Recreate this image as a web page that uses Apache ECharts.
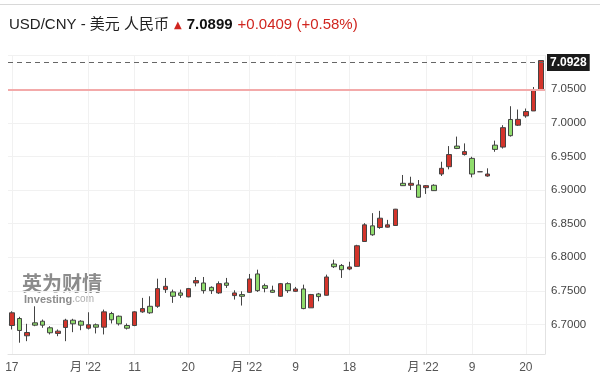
<!DOCTYPE html>
<html><head><meta charset="utf-8">
<script src="https://cdn.jsdelivr.net/npm/echarts@6/dist/echarts.min.js"></script>
<style>html,body{margin:0;padding:0;background:#fff}#c{width:600px;height:392px}</style>
</head><body><div id="c"></div>
<script>
const dates = [
 '2022-06-17','2022-06-20','2022-06-21','2022-06-22','2022-06-23','2022-06-24',
 '2022-06-27','2022-06-28','2022-06-29','2022-06-30','2022-07-01',
 '2022-07-04','2022-07-05','2022-07-06','2022-07-07','2022-07-08',
 '2022-07-11','2022-07-12','2022-07-13','2022-07-14','2022-07-15',
 '2022-07-18','2022-07-19','2022-07-20','2022-07-21','2022-07-22',
 '2022-07-25','2022-07-26','2022-07-27','2022-07-28','2022-07-29',
 '2022-08-01','2022-08-02','2022-08-03','2022-08-04','2022-08-05',
 '2022-08-08','2022-08-09','2022-08-10','2022-08-11','2022-08-12',
 '2022-08-15','2022-08-16','2022-08-17','2022-08-18','2022-08-19',
 '2022-08-22','2022-08-23','2022-08-24','2022-08-25','2022-08-26',
 '2022-08-29','2022-08-30','2022-08-31','2022-09-01','2022-09-02',
 '2022-09-05','2022-09-06','2022-09-07','2022-09-08','2022-09-09',
 '2022-09-12','2022-09-13','2022-09-14','2022-09-15','2022-09-16',
 '2022-09-19','2022-09-20','2022-09-21','2022-09-22'
];
const opens = [6.6985,6.7089,6.6832,6.7025,6.7049,6.6951,6.6867,6.6956,6.7064,6.7049,
 6.6945,6.6996,6.6960,6.7163,6.7123,6.6985,6.6985,6.7188,6.7271,6.7271,
 6.7519,6.7485,6.7470,6.7411,6.7618,6.7618,6.7553,6.7470,6.7618,6.7430,
 6.7445,6.7479,6.7752,6.7578,6.7509,6.7420,6.7608,6.7494,6.7529,6.7248,
 6.7455,6.7435,6.7900,6.7879,6.7826,6.7865,6.8235,6.8468,6.8443,6.8449,
 6.8473,6.9101,6.9072,6.9076,6.9036,6.9072,6.9239,6.9348,6.9655,6.9529,
 6.9472,6.9273,6.9210,6.9669,6.9640,7.0051,6.9966,7.0104,7.0178,7.0495];
const closes = [6.7174,6.6911,6.6881,6.6990,6.6990,6.6877,6.6901,6.7064,6.7010,6.6990,
 6.6996,6.6960,6.7188,6.7070,6.7010,6.6945,6.7188,6.7237,6.7174,6.7534,
 6.7568,6.7420,6.7435,6.7534,6.7653,6.7504,6.7504,6.7608,6.7583,6.7470,
 6.7420,6.7678,6.7504,6.7538,6.7479,6.7608,6.7504,6.7529,6.7237,6.7445,
 6.7415,6.7707,6.7860,6.7816,6.7856,6.8172,6.8483,6.8335,6.8582,6.8483,
 6.8716,6.9066,6.9101,6.8894,6.9066,6.8992,6.9324,6.9529,6.9620,6.9573,
 6.9239,6.9273,6.9239,6.9606,6.9929,6.9810,7.0052,7.0169,7.0485,7.0928];
const lows = [6.6926,6.6729,6.6752,6.6975,6.6951,6.6852,6.6826,6.6752,6.6886,6.6915,
 6.6926,6.6867,6.6852,6.7015,6.6985,6.6926,6.6975,6.7174,6.7159,6.7248,
 6.7470,6.7322,6.7396,6.7405,6.7568,6.7460,6.7455,6.7455,6.7544,6.7371,
 6.7282,6.7470,6.7485,6.7479,6.7470,6.7411,6.7470,6.7485,6.7227,6.7248,
 6.7346,6.7430,6.7841,6.7693,6.7808,6.7865,6.8235,6.8320,6.8424,6.8443,
 6.8468,6.9061,6.9002,6.8888,6.8943,6.8987,6.9210,6.9309,6.9610,6.9514,
 6.9190,6.9273,6.9199,6.9570,6.9618,6.9796,6.9954,7.0077,7.0178,7.0495];
const highs = [6.7197,6.7114,6.7010,6.7271,6.7074,6.6975,6.6926,6.7085,6.7085,6.7064,
 6.7182,6.7015,6.7222,6.7188,6.7133,6.7015,6.7197,6.7396,6.7420,6.7682,
 6.7693,6.7519,6.7519,6.7544,6.7707,6.7707,6.7568,6.7642,6.7693,6.7509,
 6.7494,6.7752,6.7816,6.7608,6.7578,6.7618,6.7627,6.7559,6.7593,6.7455,
 6.7470,6.7742,6.7964,6.7900,6.7934,6.8186,6.8508,6.8657,6.8691,6.8557,
 6.8720,6.9225,6.9199,6.9150,6.9076,6.9087,6.9422,6.9655,6.9796,6.9695,
 6.9496,6.9273,6.9324,6.9736,6.9966,7.0248,7.0199,7.0214,7.0534,7.0928];
const tickDates = ['2022-06-17','2022-07-01','2022-07-11','2022-07-20','2022-08-01',
 '2022-08-09','2022-08-18','2022-09-01','2022-09-09','2022-09-20'];
const tickTexts = ['17',"月 '22",'11','20',"月 '22",'9','18',"月 '22",'9','20'];
const yMin = 6.6561, yMax = 7.1;
const lastPrice = 7.0928, prevClose = 7.0490;
const headerName = 'USD/CNY - 美元 人民币';
const headerPrice = '7.0899';
const headerChange = '+0.0409 (+0.58%)';

const FONT = '"Liberation Sans", Arial, "Noto Sans CJK SC", sans-serif';
const candles = dates.map((d, i) => [opens[i], closes[i], lows[i], highs[i]]);

const chart = echarts.init(document.getElementById('c'), null, {renderer: 'canvas'});
chart.setOption({
  animation: false,
  backgroundColor: '#fff',
  title: {
    left: 9, top: 16, padding: 0,
    text: '{a|' + headerName + '} {u|▲} {b|' + headerPrice + '} {c|' + headerChange + '}',
    textStyle: {
      fontWeight: 'normal',
      rich: {
        a: {fontSize: 15, color: '#222', fontWeight: 'normal', fontFamily: FONT},
        u: {fontSize: 10, color: '#d0251f', fontWeight: 'normal', fontFamily: 'DejaVu Sans'},
        b: {fontSize: 15, color: '#111', fontWeight: 'bold', fontFamily: FONT},
        c: {fontSize: 15, color: '#d0251f', fontWeight: 'normal', fontFamily: FONT}
      }
    }
  },
  graphic: [
    {type: 'line', shape: {x1: 0, y1: 4.5, x2: 600, y2: 4.5}, style: {stroke: '#d8d8d8', lineWidth: 1}, silent: true},
    {type: 'text', left: 22, top: 273, silent: true,
     style: {text: '英为财情', font: 'bold 20px "Noto Sans CJK SC"', fill: '#8c8c8c'}},
    {type: 'text', left: 24, top: 294, silent: true,
     style: {text: '{a|Investing}{b|.com}', rich: {
       a: {font: 'bold 11px "Liberation Sans"', fill: '#8c8c8c'},
       b: {font: '10px "Liberation Sans"', fill: '#adadad'}}}}
  ],
  grid: {left: 8, right: 55, top: 55.7, bottom: 38},
  xAxis: {
    type: 'category', data: dates, boundaryGap: true,
    axisLine: {lineStyle: {color: '#e2e2e2'}},
    axisTick: {show: false},
    splitLine: {show: false},
    axisLabel: {
      interval: (i, v) => tickDates.indexOf(v) >= 0,
      formatter: v => {
        const t = tickTexts[tickDates.indexOf(v)];
        return t.indexOf('月') >= 0 ? '{m|' + t + '}' : t;
      },
      rich: {m: {fontSize: 12, color: '#555', fontFamily: FONT, padding: [0, 6, 0, 0]}},
      fontSize: 12, color: '#555', fontFamily: FONT, margin: 8
    }
  },
  yAxis: {
    type: 'value', position: 'right', scale: true,
    min: yMin, max: yMax, splitNumber: 9, minInterval: 0.05, maxInterval: 0.05,
    axisLine: {show: true, lineStyle: {color: '#e2e2e2'}},
    axisTick: {show: false},
    splitLine: {lineStyle: {color: '#f1f1f1'}},
    axisLabel: {
      showMinLabel: false, showMaxLabel: false,
      formatter: v => v.toFixed(4),
      fontSize: 11.5, color: '#444', fontFamily: FONT, margin: 6
    }
  },
  series: [
    {
      type: 'line', data: dates.map(() => null), z: 1,
      markLine: {
        symbol: ['none', 'none'], z: 1,
        label: {show: false},
        lineStyle: {color: '#f1f1f1', type: 'solid', width: 1},
        data: tickDates.map(d => ({xAxis: d}))
      }
    },
    {
      type: 'line', data: dates.map(() => null), z: 4,
      markLine: {
        symbol: ['none', 'none'], z: 4,
        label: {show: false},
        lineStyle: {color: '#f3aaaa', type: 'solid', width: 2},
        data: [{yAxis: prevClose}]
      }
    },
    {
      type: 'candlestick', data: candles, barWidth: 5, z: 3,
      itemStyle: {color: '#d3342b', color0: '#8fdc6c', borderColor: '#444', borderColor0: '#444', borderWidth: 1},
      markLine: {
        symbol: ['none', 'none'], z: 5,
        lineStyle: {color: '#666', type: [5, 4], width: 1},
        data: [
          {yAxis: lastPrice,
           label: {show: true, position: 'end', formatter: lastPrice.toFixed(4), distance: 2,
             backgroundColor: '#1b1b1b', color: '#fff', fontWeight: 'bold', fontSize: 12,
             fontFamily: FONT, padding: [3, 3, 2, 3]}}
        ]
      }
    }
  ]
});
</script></body></html>
